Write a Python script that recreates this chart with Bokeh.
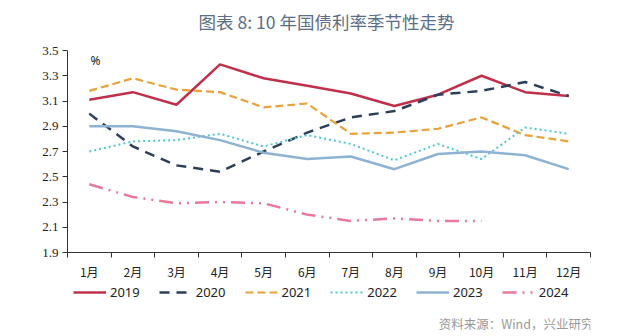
from bokeh.plotting import figure
from bokeh.layouts import column
from bokeh.models import Range1d, FixedTicker, Label, Legend, LegendItem
from bokeh.embed import file_html
from bokeh.resources import INLINE

months = ["1月", "2月", "3月", "4月", "5月", "6月", "7月", "8月", "9月", "10月", "11月", "12月"]
y2019 = [3.11, 3.17, 3.07, 3.39, 3.28, 3.22, 3.16, 3.06, 3.15, 3.30, 3.17, 3.14]
y2020 = [3.00, 2.74, 2.59, 2.54, 2.70, 2.85, 2.97, 3.02, 3.15, 3.18, 3.25, 3.14]
y2021 = [3.18, 3.28, 3.19, 3.17, 3.05, 3.08, 2.84, 2.85, 2.88, 2.97, 2.83, 2.78]
y2022 = [2.70, 2.78, 2.79, 2.84, 2.74, 2.83, 2.76, 2.63, 2.76, 2.64, 2.89, 2.84]
y2023 = [2.90, 2.90, 2.86, 2.79, 2.69, 2.64, 2.66, 2.56, 2.68, 2.70, 2.67, 2.56]
y2024 = [2.44, 2.34, 2.29, 2.30, 2.29, 2.20, 2.15, 2.17, 2.15, 2.15]
y_ticks = [1.9, 2.1, 2.3, 2.5, 2.7, 2.9, 3.1, 3.3, 3.5]

xs = [i + 0.5 for i in range(len(months))]

FRAME_LEFT = 67
TOP_H = 40
MAIN_H = 282 - TOP_H
LOW_H = 336 - 282


def strip(h):
    f = figure(width=640, height=h, output_backend="svg", toolbar_location=None,
               x_range=Range1d(0, 1), y_range=Range1d(0, 1), min_border=0, title=None)
    f.axis.visible = False
    f.grid.visible = False
    f.outline_line_color = None
    f.background_fill_color = "white"
    f.border_fill_color = "white"
    return f


# Top strip: title
t = strip(TOP_H)
t.add_layout(Label(x=326 - FRAME_LEFT, y=TOP_H - 21, x_units="screen", y_units="screen",
                   text="图表 8: 10 年国债利率季节性走势", text_font="Noto Sans CJK SC",
                   text_font_size="17.5px", text_color="#5A6E85",
                   text_align="center", text_baseline="middle"))

p = figure(width=640, height=MAIN_H, output_backend="svg", toolbar_location=None,
           x_range=Range1d(0, 12), y_range=Range1d(1.9, 3.5), title=None,
           min_border_left=FRAME_LEFT, min_border_right=50, min_border_top=50 - TOP_H,
           min_border_bottom=282 - 254)
p.outline_line_color = None
p.xgrid.visible = False
p.ygrid.visible = False
p.background_fill_color = "white"
p.border_fill_color = "white"

series = [
    ("2019", y2019, "#C0304A", "solid", 2.5),
    ("2020", y2020, "#2D3E57", "10 7", 2.5),
    ("2021", y2021, "#E9A23B", "8 4", 2.2),
    ("2022", y2022, "#4DC8D3", "2 3", 2.0),
    ("2023", y2023, "#8EB2D2", "solid", 2.5),
    ("2024", y2024, "#E9789A", "14 6 2 6 2 6", 2.5),
]
for name, ys, col, dash, lw in series:
    p.line(xs[:len(ys)], ys, line_color=col, line_dash=dash, line_width=lw)

xa = p.xaxis[0]
xa.ticker = FixedTicker(ticks=xs, minor_ticks=list(range(13)))
xa.major_label_overrides = {x: m for x, m in zip(xs, months)}
xa.major_tick_out = 0
xa.major_tick_in = 0
xa.minor_tick_out = 5
xa.minor_tick_in = 0
xa.minor_tick_line_color = "#333333"
xa.axis_line_color = "#333333"
xa.major_label_text_font = "Noto Sans CJK SC"
xa.major_label_text_font_size = "12px"
xa.major_label_text_color = "#222222"
xa.major_label_standoff = 5

ya = p.yaxis[0]
ya.ticker = FixedTicker(ticks=y_ticks, minor_ticks=[])
ya.major_tick_out = 5
ya.major_tick_in = 0
ya.major_tick_line_color = "#333333"
ya.axis_line_color = "#333333"
ya.major_label_text_font = "Liberation Serif"
ya.major_label_text_font_size = "13px"
ya.major_label_text_color = "#222222"
ya.major_label_standoff = 4

p.add_layout(Label(x=28, y=192, x_units="screen", y_units="screen",
                   text="%", text_font="Noto Sans", text_font_size="12px",
                   text_color="#222222", text_align="center", text_baseline="middle"))

# Lower strip: legend and source note (its frame is aligned with the main frame)
q = strip(LOW_H)
items = []
for name, ys, col, dash, lw in series:
    r = q.line([0.0], [float("nan")], line_color=col, line_dash=dash, line_width=lw)
    items.append(LegendItem(label=name, renderers=[r]))

legend = Legend(items=items, orientation="horizontal", location=(73 - FRAME_LEFT, LOW_H - 11 - 8),
                glyph_width=33, glyph_height=16, label_standoff=4, spacing=19,
                padding=0, margin=0, border_line_color=None, background_fill_alpha=0,
                label_text_font="Noto Sans", label_text_font_size="13px",
                label_text_color="#222222")
q.add_layout(legend, "center")

q.add_layout(Label(x=593 - FRAME_LEFT, y=LOW_H - (323 - 282), x_units="screen", y_units="screen",
                   text="资料来源：Wind，兴业研究", text_font="Noto Sans CJK SC",
                   text_font_size="12.5px", text_color="#999999",
                   text_align="right", text_baseline="middle"))

layout = column(t, p, q, spacing=0)
open("out.html", "w").write(file_html(layout, INLINE))
